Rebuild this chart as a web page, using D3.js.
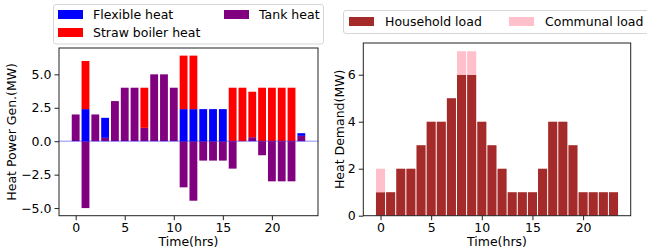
<!DOCTYPE html>
<html>
<head>
<meta charset="utf-8">
<script src="https://cdn.jsdelivr.net/npm/d3@7"></script>
<style>
  body { margin: 0; background: #fff; }
  text { font-family: "DejaVu Sans", sans-serif; fill: #000; }
</style>
</head>
<body>
<div id="chart"></div>
<script>
(function() {
	var width = 647,
		height = 251;

	// hours 0..23
	var hours = d3.range(24);
	var tankHeat     = [2, -5, 2, 0.25, 3, 4, 4, 1, 5, 5, 4, -3.45, -4.45, -1.45, -1.45, -1.45, -2.05, 0, 0.3, -1.05, -3, -3, -3, 0.4];
	var flexibleHeat = [0, 2.4, 0, 1.5, 0, 0, 0, 0, 0, 0, 0, 2.4, 2.4, 2.4, 2.4, 2.4, 0, 0, 0, 0, 0, 0, 0, 0.2];
	var strawHeat    = [0, 3.6, 0, 0, 0, 0, 0, 3, 0, 0, 0, 4, 4, 0, 0, 0, 4, 4, 3.4, 4, 4, 4, 4, 0];
	var householdLoad = [1, 1, 2, 2, 3, 4, 4, 5, 6, 6, 4, 3, 2, 1, 1, 1, 2, 4, 4, 3, 1, 1, 1, 1];
	var communalLoad  = [1, 0, 0, 0, 0, 0, 0, 0, 1, 1, 0, 0, 0, 0, 0, 0, 0, 0, 0, 0, 0, 0, 0, 0];
	var xTicks = [0, 5, 10, 15, 20];
	var leftYTicks = [-5, -2.5, 0, 2.5, 5];
	var rightYTicks = [0, 2, 4, 6];

	var svg = d3.select("#chart")
		.append("svg")
		.attr("width", width)
		.attr("height", height);

	var fs = 12.5;

	// ---------- left: heat generation ----------
	var L = {left: 59, right: 318, top: 48, bottom: 215.7};
	var xL = d3.scaleLinear().domain([-1.7, 24.7]).range([L.left, L.right]);
	var yL = d3.scaleLinear().domain([-5.57, 6.97]).range([L.bottom, L.top]);
	var bwL = xL(0.8) - xL(0);

	var gL = svg.append("g");

	hours.forEach(function(h, i) {
		var t = tankHeat[i], f = flexibleHeat[i], s = strawHeat[i];
		var pos = Math.max(t, 0);
		if (t !== 0) {
			gL.append("rect")
				.attr("x", xL(h) - bwL / 2).attr("width", bwL)
				.attr("y", yL(Math.max(t, 0))).attr("height", Math.abs(yL(t) - yL(0)))
				.attr("fill", "#800080");
		}
		if (f > 0) {
			gL.append("rect")
				.attr("x", xL(h) - bwL / 2).attr("width", bwL)
				.attr("y", yL(pos + f)).attr("height", yL(pos) - yL(pos + f))
				.attr("fill", "#0000ff");
		}
		if (s > 0) {
			gL.append("rect")
				.attr("x", xL(h) - bwL / 2).attr("width", bwL)
				.attr("y", yL(pos + f + s)).attr("height", yL(pos + f) - yL(pos + f + s))
				.attr("fill", "#ff0000");
		}
	});

	// zero line
	gL.append("line")
		.attr("x1", L.left).attr("x2", L.right)
		.attr("y1", yL(0)).attr("y2", yL(0))
		.attr("stroke", "#0000ff").attr("stroke-opacity", 0.3).attr("stroke-width", 1.5);

	var axL = svg.append("g").attr("transform", "translate(0," + L.bottom + ")")
		.call(d3.axisBottom(xL).tickValues(xTicks).tickSize(4.5).tickPadding(3));
	var ayL = svg.append("g").attr("transform", "translate(" + L.left + ",0)")
		.call(d3.axisLeft(yL).tickValues(leftYTicks).tickSize(4.5).tickPadding(3)
			.tickFormat(function(d) { return d3.format(".1f")(d).replace("-", "\u2212"); }));

	gL.append("rect")
		.attr("x", L.left).attr("y", L.top)
		.attr("width", L.right - L.left).attr("height", L.bottom - L.top)
		.attr("fill", "none").attr("stroke", "#222").attr("stroke-width", 1);

	svg.append("text")
		.attr("x", (L.left + L.right) / 2).attr("y", 246)
		.attr("text-anchor", "middle").style("font-size", fs + "px")
		.text("Time(hrs)");
	svg.append("text")
		.attr("transform", "translate(16," + (L.top + L.bottom) / 2 + ") rotate(-90)")
		.attr("text-anchor", "middle").style("font-size", fs + "px")
		.text("Heat Power Gen.(MW)");

	// legend left
	var legL = svg.append("g");
	legL.append("rect")
		.attr("x", 53.5).attr("y", 4.5).attr("width", 270).attr("height", 39.5)
		.attr("rx", 2.5).attr("fill", "#fff").attr("stroke", "#d6d6d6");
	var legItemsL = [
		{label: "Flexible heat", color: "#0000ff", x: 58, y: 10},
		{label: "Tank heat", color: "#800080", x: 224, y: 10},
		{label: "Straw boiler heat", color: "#ff0000", x: 58, y: 28}
	];
	legItemsL.forEach(function(d) {
		legL.append("rect").attr("x", d.x).attr("y", d.y).attr("width", 25).attr("height", 9).attr("fill", d.color);
		legL.append("text").attr("x", d.x + 35).attr("y", d.y + 9).style("font-size", fs + "px").text(d.label);
	});

	// ---------- right: heat demand ----------
	var R = {left: 363.3, right: 630.7, top: 43, bottom: 215.7};
	var xR = d3.scaleLinear().domain([-1.7, 24.7]).range([R.left, R.right]);
	var yR = d3.scaleLinear().domain([0, 7.35]).range([R.bottom, R.top]);
	var bwR = xR(0.9) - xR(0);

	var gR = svg.append("g");
	gR.selectAll(".household")
		.data(hours)
		.enter().append("rect")
		.attr("class", "household")
		.attr("x", function(d) { return xR(d) - bwR / 2; })
		.attr("width", bwR)
		.attr("y", function(d, i) { return yR(householdLoad[i]); })
		.attr("height", function(d, i) { return yR(0) - yR(householdLoad[i]); })
		.attr("fill", "#a52a2a");
	gR.selectAll(".communal")
		.data(hours.filter(function(d, i) { return communalLoad[i] > 0; }))
		.enter().append("rect")
		.attr("class", "communal")
		.attr("x", function(d) { return xR(d) - bwR / 2; })
		.attr("width", bwR)
		.attr("y", function(d) { return yR(householdLoad[d] + communalLoad[d]); })
		.attr("height", function(d) { return yR(householdLoad[d]) - yR(householdLoad[d] + communalLoad[d]); })
		.attr("fill", "#ffc0cb");

	svg.append("g").attr("transform", "translate(0," + R.bottom + ")")
		.call(d3.axisBottom(xR).tickValues(xTicks).tickSize(4.5).tickPadding(3));
	svg.append("g").attr("transform", "translate(" + R.left + ",0)")
		.call(d3.axisLeft(yR).tickValues(rightYTicks).tickSize(4.5).tickPadding(3));

	gR.append("rect")
		.attr("x", R.left).attr("y", R.top)
		.attr("width", R.right - R.left).attr("height", R.bottom - R.top)
		.attr("fill", "none").attr("stroke", "#222").attr("stroke-width", 1);

	svg.append("text")
		.attr("x", (R.left + R.right) / 2).attr("y", 246)
		.attr("text-anchor", "middle").style("font-size", fs + "px")
		.text("Time(hrs)");
	svg.append("text")
		.attr("transform", "translate(344," + (R.top + R.bottom) / 2 + ") rotate(-90)")
		.attr("text-anchor", "middle").style("font-size", fs + "px")
		.text("Heat Demand(MW)");

	var legR = svg.append("g");
	legR.append("rect")
		.attr("x", 343.5).attr("y", 10.5).attr("width", 310).attr("height", 23)
		.attr("rx", 2.5).attr("fill", "#fff").attr("stroke", "#d6d6d6");
	var legItemsR = [
		{label: "Household load", color: "#a52a2a", x: 349, y: 17},
		{label: "Communal load", color: "#ffc0cb", x: 509, y: 17}
	];
	legItemsR.forEach(function(d) {
		legR.append("rect").attr("x", d.x).attr("y", d.y).attr("width", 25).attr("height", 9).attr("fill", d.color);
		legR.append("text").attr("x", d.x + 36).attr("y", d.y + 9).style("font-size", fs + "px").text(d.label);
	});

	// axis styling
	svg.selectAll(".domain").remove();
	svg.selectAll(".tick line").attr("stroke", "#222");
	svg.selectAll(".tick text").style("font-size", fs + "px").style("font-family", "DejaVu Sans, sans-serif").attr("fill", "#000");
})();
</script>
</body>
</html>
